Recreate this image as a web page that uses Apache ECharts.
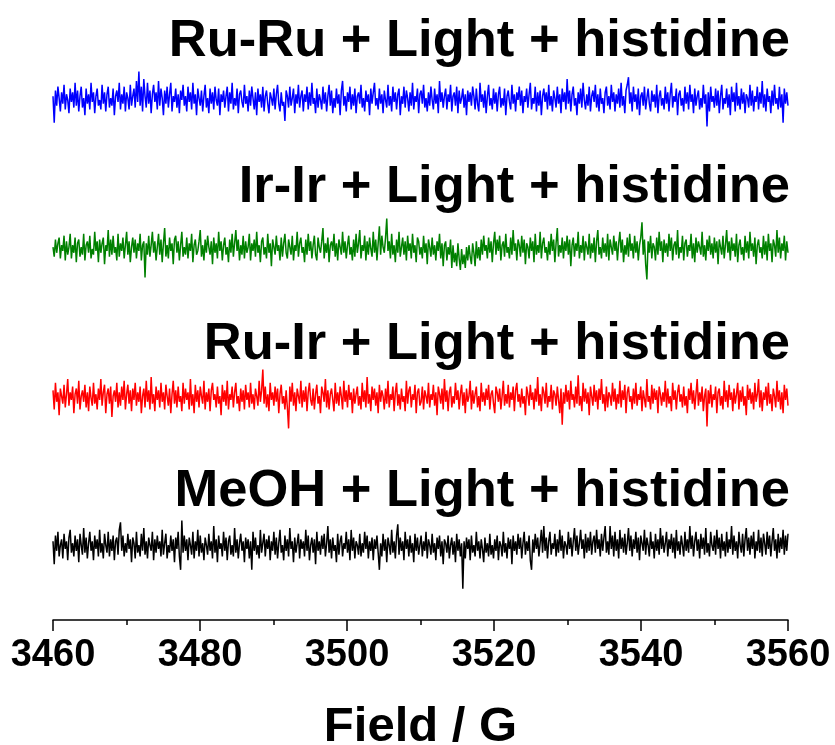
<!DOCTYPE html>
<html>
<head>
<meta charset="utf-8">
<script src="https://cdn.jsdelivr.net/npm/echarts@6/dist/echarts.min.js"></script>
<style>
  html, body { margin: 0; padding: 0; background: #fff; }
  #chart { width: 835px; height: 745px; }
</style>
</head>
<body>
<div id="chart"></div>
<script>
// EPR spectra, field sweep 3460–3560 G
const fieldStart = 3460;
const fieldEnd = 3560;
const tickLabels = [3460, 3480, 3500, 3520, 3540, 3560];

const sampleNames = [
  'Ru-Ru + Light + histidine',
  'Ir-Ir + Light + histidine',
  'Ru-Ir + Light + histidine',
  'MeOH + Light + histidine'
];
const sampleColors = ['#0000ff', '#008000', '#ff0000', '#000000'];

// signal intensity (a.u.), evenly spaced over the sweep
const ruRu = [
  2,-12,5,-3,7,1,-6,4,-2,8,-5,3,0,-7,6,-1,4,-4,9,-3,
  5,-6,2,7,-4,1,-8,6,-2,3,-5,9,-1,4,-7,2,6,-3,0,-5,
  8,-2,4,-6,3,7,-4,1,-3,6,-8,2,5,-1,9,-5,3,-2,7,-6,
  4,1,-5,8,-3,2,6,-4,10,-1,15,-3,7,-6,11,2,-4,9,-2,5,
  -7,3,8,-1,4,-5,10,-3,6,1,-8,5,-2,7,-4,3,9,-6,2,-1,
  6,-4,3,-7,5,0,8,-3,2,-6,7,-1,4,-5,9,-2,3,-8,6,1,
  -3,5,-6,2,8,-4,1,-7,6,-2,4,-5,7,0,-3,6,-8,3,-1,5,
  -4,2,7,-6,4,-2,9,-5,1,-3,6,-7,3,5,-1,-4,8,-2,2,-6,
  5,-3,7,1,-5,4,-8,6,-1,3,-4,7,-6,2,5,-2,-7,4,1,-3,
  6,-5,3,8,-2,-6,4,-3,-1,-11,5,2,-4,7,-3,1,6,-7,3,-2,
  8,-4,2,5,-6,3,-1,7,-5,4,-3,9,-2,1,-7,6,-4,3,0,-5,
  7,-2,4,-6,2,8,-3,5,-7,1,-4,6,-2,3,-8,5,10,-3,2,-6,
  4,-1,7,-5,3,-3,6,-7,2,4,-2,8,-4,1,-6,5,-1,3,-8,6,
  -2,4,9,-3,1,-5,6,-2,3,-7,5,0,-4,8,-3,2,-6,7,-1,4,
  -5,3,6,-8,2,-2,7,-4,5,1,-6,4,-3,9,-5,2,-1,6,-7,3,
  5,-2,8,-4,1,-6,4,-3,7,0,-5,6,-2,3,-7,10,-1,4,-4,2,
  6,-5,3,-1,8,-6,2,4,-3,7,-7,5,-2,1,6,-4,3,-8,5,-1,
  4,-3,7,2,-5,6,-2,-6,9,-1,3,-4,5,-7,2,8,-3,1,-5,6,
  -2,4,-6,3,7,-4,1,-3,6,-8,2,5,-1,-5,8,-2,3,-6,4,0,
  7,-3,5,-7,2,-1,6,-4,3,9,-5,1,-2,7,-6,4,-3,5,-8,2,
  6,-1,4,-5,8,-3,2,-6,5,1,-4,7,-2,3,-7,6,-1,4,-5,11,
  -2,5,-6,3,7,-3,1,-8,4,-2,6,-4,9,0,-5,3,-3,7,-6,2,
  5,-1,8,-4,3,-6,6,-2,1,-7,4,7,-3,2,-5,8,-1,4,-6,3,
  -2,6,-4,9,-3,2,-7,5,8,12,-2,4,-6,7,-1,3,-5,6,-8,2,
  4,-3,7,-5,1,6,-2,-6,5,-1,3,-4,8,-7,2,5,-3,1,-5,7,
  -2,4,-6,3,9,-4,2,-1,6,-8,3,5,-3,1,-6,7,-2,4,-5,8,
  -1,3,-7,6,-3,2,5,-5,1,-4,8,-2,3,-14,4,-6,7,-1,2,-4,
  6,-3,5,-7,2,8,-5,1,-2,6,-4,3,-8,7,-1,4,-6,9,-3,2,
  -5,6,-2,4,-7,3,1,-4,8,-3,5,-6,2,-1,7,-5,4,-2,10,-4,
  3,-6,6,-1,2,-7,5,-3,8,-2,1,-5,7,-4,3,-12,6,-2,4,-3
];
const irIr = [
  1,-4,5,-2,3,6,-5,2,-1,7,-6,4,-3,1,8,-5,2,-2,6,-7,
  3,5,-4,1,-3,8,-6,2,4,-2,7,-5,0,-3,9,-1,4,-7,5,-2,
  3,6,-8,2,-1,10,-4,5,-3,7,-2,1,-6,8,-4,3,-1,6,-5,2,
  9,-3,4,-7,1,6,-2,5,-5,3,-1,8,-6,2,4,-15,3,-3,7,-4,
  2,9,-2,4,-6,1,8,-3,5,-7,3,11,-4,2,-5,6,-1,3,-8,5,
  7,-2,4,-6,2,9,-4,1,-3,6,-5,3,-1,8,-7,2,5,-3,-1,4,
  10,-4,2,-6,5,-2,7,1,-3,4,-8,6,-2,3,-5,9,-1,4,-6,2,
  6,-3,1,-7,5,-2,8,-4,3,10,-1,5,-6,2,-3,7,-5,4,-2,1,
  8,-6,3,-1,5,-4,9,-2,2,-7,4,6,-3,1,-5,8,-2,3,-9,5,
  4,-3,7,-1,2,-6,6,-4,3,8,-2,-5,5,1,-3,7,-6,2,-1,9,
  -4,3,6,-2,1,-7,5,-3,8,-1,4,-5,2,7,-3,-6,6,1,-2,4,
  11,-5,3,-2,6,-7,2,4,-1,8,-4,3,-6,5,1,-3,9,-2,4,-5,
  2,7,-3,1,-6,5,-4,8,-2,3,10,-5,2,-1,7,-6,4,-3,6,0,
  -4,9,-2,5,-6,3,12,-3,7,1,-2,6,16,-1,4,-5,8,-3,2,-7,
  5,-2,9,-4,1,6,-3,4,-6,7,-1,3,-5,8,-2,2,-7,6,4,-3,
  1,-5,7,-2,3,-8,5,1,-4,6,-3,2,-6,4,-1,8,-5,3,-9,2,
  4,-6,1,-3,5,-10,2,-7,-2,-9,3,-5,-11,0,-8,-3,-10,1,-6,2,
  -4,-8,3,-2,-9,4,-5,1,-6,5,-3,7,-1,2,-5,6,-2,4,-7,3,
  9,-3,5,-1,7,-6,2,4,-4,8,-2,1,-5,6,-3,10,-1,3,-6,5,
  2,-4,7,-2,5,-8,3,1,-5,6,-1,4,-7,8,-3,2,-2,9,-5,3,
  6,-2,1,-6,4,-3,8,-1,5,-7,3,11,-4,2,-2,6,-5,4,-1,7,
  -3,5,-9,2,6,-4,3,-1,9,-5,2,-2,7,-6,4,1,-3,8,-5,3,
  -2,6,-7,4,10,-3,1,-5,6,-2,3,-4,8,-6,5,1,-3,7,-1,4,
  -6,3,9,-2,5,-7,2,-3,6,-4,8,-1,3,-5,7,-2,4,-6,2,6,
  14,-3,5,-8,-16,4,-2,7,-5,3,1,-6,6,-3,9,-1,4,-7,5,-2,
  3,-4,8,-1,6,-6,2,4,-3,10,-5,1,-2,7,-6,3,5,-4,2,-1,
  8,-5,3,-7,6,-2,4,1,-3,9,-4,2,-6,5,-1,7,-3,3,-5,6,
  -2,4,-8,5,1,-3,7,-5,2,10,-2,4,-6,6,-1,3,-4,8,-7,2,
  5,-3,1,-6,7,-2,4,-5,9,-1,3,-4,6,-8,2,5,-2,1,-5,7,
  -3,4,-6,8,-1,3,-7,5,2,-4,10,-2,6,-5,3,-1,7,-6,4,-2
];
const ruIr = [
  4,-6,8,-2,3,-9,5,1,-3,7,-5,2,10,-4,3,-1,6,-8,2,5,
  -3,9,-6,1,4,-2,7,-5,3,-7,6,0,-4,8,-3,2,-6,5,-1,10,
  -4,3,7,-8,2,5,-3,6,-10,1,4,-2,8,-5,3,-4,6,-1,9,-6,
  2,7,-3,4,-7,5,-1,8,-4,3,-2,6,-8,1,5,-5,9,-2,4,-6,
  11,-3,2,-7,6,-1,4,-5,8,-2,3,-6,7,1,-4,5,-8,2,9,-3,
  4,-5,6,-2,1,-7,8,-3,5,-1,3,-6,10,-4,2,-8,7,-2,4,-5,
  6,1,-3,9,-6,3,-2,5,-7,4,8,-1,2,-5,6,-3,1,-9,7,-2,
  4,-4,9,-6,2,-1,6,-5,3,8,-3,1,-7,5,-2,4,-6,7,-1,3,
  -5,8,-3,2,-6,5,1,-4,9,-2,4,15,-3,6,-5,2,-7,8,-1,3,
  -4,6,-2,5,-8,2,7,-3,1,-6,4,-5,-16,6,-2,8,-4,3,-7,5,
  1,-3,9,-5,4,-2,6,-7,3,8,-1,-4,5,-6,2,7,-3,1,-8,6,
  3,-2,10,-5,4,-6,2,5,-1,-7,8,-3,3,-4,6,1,-6,9,-2,4,
  -5,7,-1,3,-8,5,-3,2,6,-4,1,-6,8,-2,4,-5,11,-3,2,-7,
  6,-1,5,-4,3,-8,7,-2,4,1,-6,5,-3,9,-5,2,-1,6,-7,3,
  8,-4,2,-6,5,-2,1,-7,9,-3,4,6,-5,2,-1,7,-8,3,5,-4,
  -2,6,-6,4,1,-3,8,-5,2,-1,7,-4,3,-9,6,2,-3,5,-6,10,
  -2,4,-7,3,6,-5,1,-3,8,-1,4,-6,2,7,-4,3,-8,5,-2,1,
  9,-6,4,-3,2,6,-5,1,-7,8,-2,3,-4,5,-1,7,-6,2,4,-3,
  -8,6,3,-2,5,-6,1,9,-4,2,-3,7,-5,3,-1,6,-7,4,8,-2,
  2,-5,5,-3,1,-9,6,2,-4,7,-1,3,-6,5,-2,11,-4,2,-7,6,
  3,-3,8,-5,1,-2,7,-6,4,2,-4,6,-1,-8,5,-14,3,-3,7,-2,
  4,-6,9,-1,2,-5,6,-3,12,-4,1,-7,8,-2,5,-3,3,-9,6,1,
  -4,7,-2,4,-6,5,-1,10,-3,2,-7,6,-5,3,1,-4,8,-2,5,-6,
  2,-3,9,-5,4,-1,7,-8,3,6,-2,1,-6,5,-3,8,-4,2,-1,6,
  -7,4,3,-5,10,-2,1,-6,7,-3,5,-1,4,-8,6,2,-4,3,-2,9,
  -5,5,-3,1,-7,8,-1,4,-6,3,7,-2,2,-5,6,-4,1,-8,5,-1,
  8,-3,4,-6,2,10,-4,3,-2,6,-7,1,5,-15,4,-3,7,-5,2,-1,
  6,-8,3,5,-4,1,-6,9,-2,4,-5,7,-1,3,-7,5,-3,2,8,-6,
  4,-2,6,-4,1,-9,7,-1,5,-3,3,-6,8,-2,2,10,-5,4,-7,3,
  -1,6,-4,8,-3,2,-7,5,1,-5,9,-2,4,-6,3,-8,7,-1,5,-4
];
const meoh = [
  3,-9,6,-2,8,-5,1,4,-6,7,-1,3,-7,5,9,-3,2,-5,6,-2,
  4,-8,7,1,-4,10,-3,5,-6,2,8,-2,3,-7,6,-1,4,-5,9,-3,
  2,-6,7,1,-3,8,-5,4,-2,6,-7,3,5,-4,9,13,-2,6,-5,2,
  -3,7,-1,4,-8,5,2,-6,8,-3,1,-5,7,-2,10,-4,3,-6,5,1,
  -2,8,-7,4,-3,6,-1,3,-5,9,-4,2,7,-6,1,-3,6,-2,4,-8,
  5,-1,8,-5,-12,14,-3,6,-2,4,-7,5,1,-4,8,-6,3,-2,9,-5,
  6,-3,2,-7,5,1,-4,7,-2,3,-6,11,-3,4,-8,6,-1,2,-5,8,
  -2,5,-7,3,6,-4,1,-5,10,-3,4,-6,2,7,-2,3,-8,5,-1,4,
  -6,3,-12,8,-2,5,-4,1,-6,9,-3,2,7,-5,4,-1,6,-7,3,-2,
  8,-4,5,-6,2,9,-3,1,-7,6,-2,4,-5,10,-1,3,-8,5,-3,2,
  7,-6,4,-1,3,-5,9,-2,6,-7,1,5,-3,4,-9,8,-2,3,-4,6,
  -1,7,-5,2,11,-3,4,-6,5,-2,1,-8,7,-4,3,6,-5,2,-1,8,
  -3,4,-7,9,-2,5,-6,3,1,-4,7,-5,2,-3,8,-1,6,-6,3,-2,
  5,-7,4,-1,6,-3,-12,2,-5,7,-2,4,-8,5,1,-4,9,-3,3,-6,
  6,12,-4,5,-2,3,-7,8,-1,4,-5,6,-3,2,-8,7,-2,5,-4,1,
  6,-5,3,-2,8,-6,4,1,-4,7,-3,2,-7,5,-1,6,-5,3,-9,4,
  2,-3,6,-6,1,5,-4,3,-8,7,-2,4,-5,2,-22,3,-6,5,-1,4,
  -7,6,-3,1,-5,8,-2,3,-6,4,-1,-8,5,-3,2,-5,7,-4,1,-6,
  4,-2,6,-7,3,1,-5,8,-3,2,-6,5,-1,4,-9,6,-2,3,-4,7,
  -1,5,-6,2,8,-4,3,-2,6,-7,-12,4,-3,7,-1,5,-5,2,9,-3,
  11,-2,5,-6,3,8,-4,2,-1,7,-5,4,-3,9,-2,6,-6,3,1,-4,
  8,-1,5,-5,3,10,-2,6,-4,2,9,-1,4,-6,7,-3,5,-2,8,-4,
  3,6,-3,9,-1,4,-5,7,-2,5,11,-3,3,-4,11,-1,6,-5,8,-2,
  4,-6,9,-1,5,-3,7,-4,2,10,-2,6,-5,4,-1,8,-3,5,-7,6,
  2,-2,9,-4,5,1,-5,8,-1,3,-6,7,-2,4,-4,10,-1,6,-3,2,
  8,-5,4,-1,7,-3,5,-6,9,-2,3,-4,6,1,-5,8,-2,4,-3,11,
  -1,6,-5,3,8,-2,4,-6,7,-1,5,-4,10,-3,2,-5,8,1,-2,6,
  -4,9,-1,5,-6,7,-2,3,-5,8,-3,4,-1,11,-4,6,-2,3,-6,8,
  1,-3,7,-5,4,10,-2,5,-4,6,-1,8,-6,3,-2,9,-3,5,-5,7,
  2,-4,8,-1,6,-5,3,10,-2,4,-6,7,-3,5,-1,9,-4,6,-2,7
];

const spectra = [ruRu, irIr, ruIr, meoh];

// vertical spacing between stacked traces (a.u.)
const traceGap = 78.4;

function toPairs(values, stackIndex) {
  const offset = (spectra.length - 1 - stackIndex) * traceGap;
  const step = (fieldEnd - fieldStart) / (values.length - 1);
  return values.map((v, i) => [fieldStart + i * step, v + offset]);
}

const chart = echarts.init(document.getElementById('chart'), null, { renderer: 'canvas' });

const labelFont = "'Liberation Sans', Arial, sans-serif";
const titleTops = [15, 161, 318, 465];

chart.setOption({
  animation: false,
  backgroundColor: '#ffffff',
  title: sampleNames.map((name, k) => ({
    text: name,
    right: 45,
    top: titleTops[k],
    padding: 0,
    textStyle: {
      fontFamily: labelFont,
      fontWeight: 'bold',
      fontSize: 52.5,
      color: '#000'
    }
  })),
  grid: {
    left: 53, right: 47, top: 0, bottom: 125,
    containLabel: false,
    outerBoundsMode: 'none'
  },
  xAxis: {
    type: 'value',
    min: fieldStart,
    max: fieldEnd,
    interval: 20,
    name: 'Field / G',
    nameLocation: 'middle',
    nameGap: 83,
    nameTextStyle: {
      fontFamily: labelFont,
      fontWeight: 'bold',
      fontSize: 49,
      color: '#000'
    },
    axisLine: { show: true, onZero: false, lineStyle: { color: '#000', width: 1.5 } },
    axisTick: { show: true, inside: false, length: 11, lineStyle: { color: '#000', width: 1.5 } },
    minorTick: { show: true, splitNumber: 2, length: 5, lineStyle: { color: '#000', width: 1.5 } },
    splitLine: { show: false },
    axisLabel: {
      margin: 17,
      fontFamily: labelFont,
      fontWeight: 'bold',
      fontSize: 38,
      color: '#000',
      formatter: v => (tickLabels.indexOf(v) >= 0 ? String(v) : '')
    }
  },
  yAxis: {
    type: 'value',
    min: -38.4,
    max: 287.8,
    show: false,
    splitLine: { show: false }
  },
  series: spectra.map((vals, k) => ({
    name: sampleNames[k],
    type: 'line',
    data: toPairs(vals, k),
    showSymbol: false,
    symbol: 'none',
    lineStyle: { color: sampleColors[k], width: 1.5 },
    z: 2
  }))
});
</script>
</body>
</html>
